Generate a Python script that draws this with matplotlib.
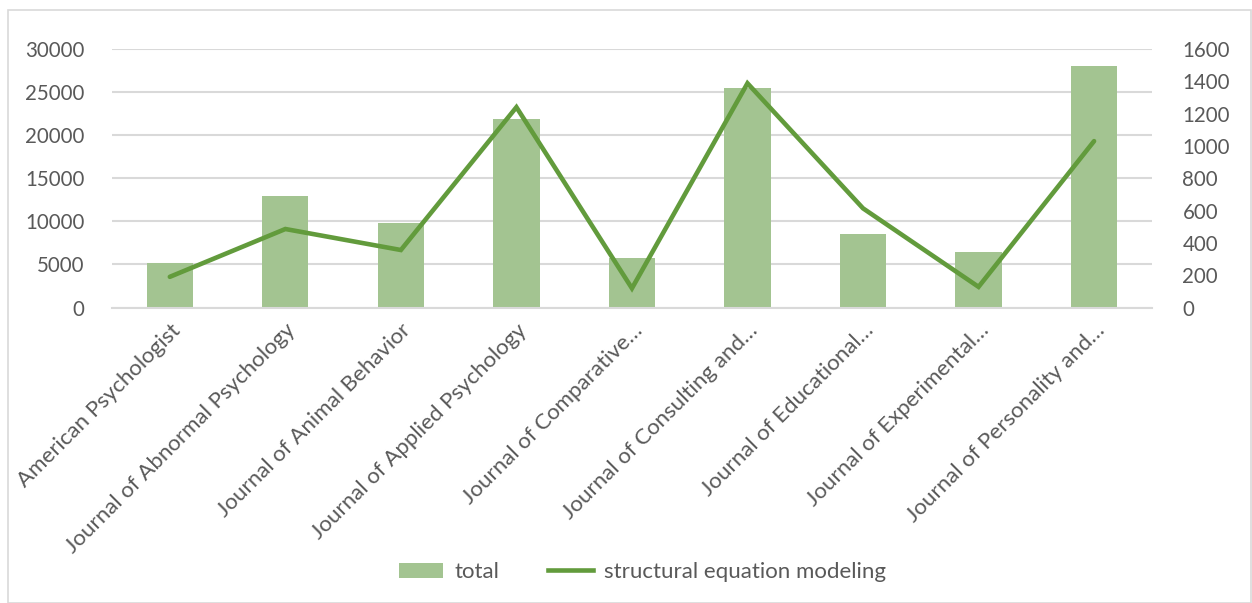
import matplotlib
matplotlib.use("Agg")
import matplotlib.pyplot as plt
from matplotlib.patches import Rectangle
from matplotlib.lines import Line2D
from matplotlib.patches import Patch

categories = [
    "American Psychologist",
    "Journal of Abnormal Psychology",
    "Journal of Animal Behavior",
    "Journal of Applied Psychology",
    "Journal of Comparative…",
    "Journal of Consulting and…",
    "Journal of Educational…",
    "Journal of Experimental…",
    "Journal of Personality and…",
]
total = [5200, 13000, 9850, 21900, 5800, 25500, 8550, 6500, 28050]
sem = [190, 486, 356, 1240, 119, 1388, 614, 128, 1030]

left_ticks = [0, 5000, 10000, 15000, 20000, 25000, 30000]
right_ticks = [0, 200, 400, 600, 800, 1000, 1200, 1400, 1600]

plt.rcParams['font.family'] = ['Lato', 'DejaVu Sans']
bar_color = '#A3C491'
line_color = '#629B3C'
text_color = '#595959'
grid_color = '#D9D9D9'

fig = plt.figure(figsize=(12.52, 6.03), dpi=100)
ax = fig.add_axes([0.0895, 0.490, 0.8305, 0.4287])
ax2 = ax.twinx()

x = list(range(len(categories)))
ax.bar(x, total, width=0.4, color=bar_color, zorder=2)
ax2.plot(x, sem, color=line_color, linewidth=3.3, solid_capstyle='round',
         solid_joinstyle='miter', zorder=3)

ax.set_xlim(-0.5, len(categories) - 0.5)
ax.set_ylim(0, 30000)
ax2.set_ylim(0, 1600)
ax.set_yticks(left_ticks)
ax.set_yticklabels([str(t) for t in left_ticks])
ax2.set_yticks(right_ticks)
ax2.set_yticklabels([str(t) for t in right_ticks])

ax.yaxis.grid(True, color=grid_color, linewidth=1.5, zorder=0)
ax.set_axisbelow(True)
for a in (ax, ax2):
    for s in a.spines.values():
        s.set_visible(False)
    a.tick_params(axis='both', length=0, colors=text_color, labelsize=14.8)
ax.spines['bottom'].set_visible(True)
ax.spines['bottom'].set_color(grid_color)
ax.spines['bottom'].set_linewidth(1.5)

ax.tick_params(axis='y', pad=20)
ax2.tick_params(axis='y', pad=22)

ax.set_xticks(x)
ax.set_xticklabels(categories, rotation=45, ha='right', rotation_mode='anchor',
                   fontsize=16, color=text_color)
ax.tick_params(axis='x', pad=9)

handles = [Patch(facecolor=bar_color, edgecolor='none'),
           Line2D([0], [0], color=line_color, linewidth=3.3)]
fig.legend(handles, ['total', 'structural equation modeling'],
           loc='center', bbox_to_anchor=(0.513, 0.051), ncol=2, frameon=False,
           fontsize=16, labelcolor=text_color, handlelength=2.0,
           columnspacing=2.2, handletextpad=0.5)

fig.patches.append(Rectangle((8 / 1252, 0), 1 - 8 / 1252 - 0.001, 1 - 10 / 603,
                             transform=fig.transFigure, fill=False,
                             edgecolor=grid_color, linewidth=1.2))

fig.savefig('out.png', dpi=100)
